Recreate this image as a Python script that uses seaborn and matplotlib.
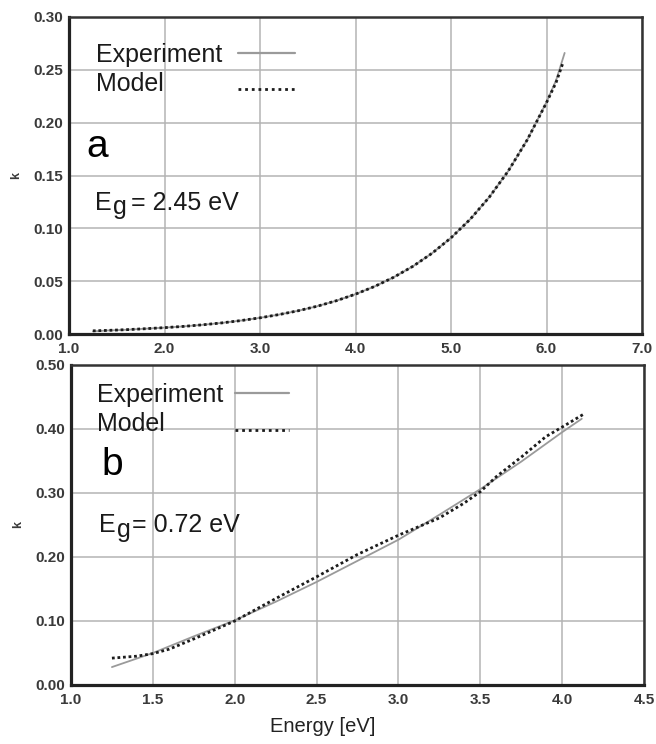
import matplotlib
matplotlib.use("Agg")
import matplotlib.pyplot as plt
import numpy as np
import pandas as pd
import seaborn as sns
from matplotlib.lines import Line2D
from matplotlib.ticker import MultipleLocator, FormatStrFormatter

# ---- panel a: wide-gap film ----
energy_a_exp = [1.25, 1.4, 1.6, 1.8, 2.0, 2.2, 2.4, 2.6, 2.8, 3.0, 3.2, 3.4, 3.6, 3.8,
                4.0, 4.2, 4.4, 4.6, 4.8, 5.0, 5.2, 5.4, 5.6, 5.8, 6.0, 6.1, 6.19]
k_a_exp = [0.0025, 0.0033, 0.0040, 0.0050, 0.0060, 0.0072, 0.0087, 0.0105, 0.0127, 0.0153,
           0.0184, 0.0220, 0.0263, 0.0315, 0.0377, 0.0450, 0.0537, 0.0640, 0.0763, 0.0910,
           0.1085, 0.1294, 0.1543, 0.1840, 0.2194, 0.2400, 0.2660]
energy_a_mod = [1.25, 1.4, 1.6, 1.8, 2.0, 2.2, 2.4, 2.6, 2.8, 3.0, 3.2, 3.4, 3.6, 3.8,
                4.0, 4.2, 4.4, 4.6, 4.8, 5.0, 5.2, 5.4, 5.6, 5.8, 6.0, 6.1, 6.17]
k_a_mod = [0.0030, 0.0034, 0.0041, 0.0050, 0.0060, 0.0072, 0.0087, 0.0105, 0.0127, 0.0153,
           0.0184, 0.0220, 0.0263, 0.0315, 0.0377, 0.0450, 0.0537, 0.0640, 0.0763, 0.0910,
           0.1085, 0.1294, 0.1543, 0.1840, 0.2190, 0.2380, 0.2560]

# ---- panel b: narrow-gap film ----
energy_b_exp = [1.25, 1.5, 1.75, 2.0, 2.25, 2.5, 2.75, 3.0, 3.25, 3.5, 3.75, 4.0, 4.12]
k_b_exp = [0.028, 0.050, 0.076, 0.101, 0.130, 0.161, 0.194, 0.227, 0.266, 0.306, 0.349, 0.395, 0.416]
energy_b_mod = [1.25, 1.3, 1.4, 1.5, 1.6, 1.75, 2.0, 2.25, 2.5, 2.75, 3.0, 3.25, 3.4, 3.5,
                3.6, 3.75, 3.9, 4.0, 4.13]
k_b_mod = [0.042, 0.043, 0.045, 0.049, 0.056, 0.072, 0.100, 0.135, 0.169, 0.204, 0.234, 0.261,
           0.284, 0.302, 0.326, 0.356, 0.388, 0.403, 0.423]

legend_labels = ["Experiment", "Model"]
panel_letters = ["a", "b"]
gap_values = ["2.45", "0.72"]
x_label = "Energy [eV]"
y_label = "k"

sns.set_theme(style="white")
plt.rcParams["font.family"] = ["Liberation Sans", "DejaVu Sans"]

EXP_COLOR = "#9a9a9a"
MOD_COLOR = "#1c1c1c"
CURVE_DOTS = (0, (1, 1.0))
LEGEND_DOTS = (0, (1, 1.4))
GRID_COLOR = "#b4b4b4"
TICK_COLOR = "#3a3a3a"

W, H = 656, 744
fig = plt.figure(figsize=(W / 100, H / 100), dpi=100)
ax_a = fig.add_axes([69 / W, 1 - 334 / H, 573 / W, 317 / H])
ax_b = fig.add_axes([71 / W, 1 - 685 / H, 573 / W, 320 / H])


def draw_curves(ax, ex, ey, mx, my):
    df_exp = pd.DataFrame({"energy": ex, "k": ey})
    df_mod = pd.DataFrame({"energy": mx, "k": my})
    sns.lineplot(data=df_exp, x="energy", y="k", ax=ax, color=EXP_COLOR, lw=1.3,
                 errorbar=None, legend=False, zorder=3)
    sns.lineplot(data=df_mod, x="energy", y="k", ax=ax, color=MOD_COLOR, lw=2.0,
                 linestyle=CURVE_DOTS, errorbar=None, legend=False, zorder=4)


def style_axes(ax, xlim, xstep, xfmt, ylim, ystep):
    ax.set_xlim(*xlim)
    ax.set_ylim(*ylim)
    ax.xaxis.set_major_locator(MultipleLocator(xstep))
    ax.yaxis.set_major_locator(MultipleLocator(ystep))
    ax.xaxis.set_major_formatter(FormatStrFormatter(xfmt))
    ax.yaxis.set_major_formatter(FormatStrFormatter("%.2f"))
    ax.grid(True, color=GRID_COLOR, lw=1.1, zorder=0)
    ax.tick_params(length=0, labelsize=11, colors=TICK_COLOR)
    ax.tick_params(axis="x", pad=6)
    ax.tick_params(axis="y", pad=4)
    for lab in ax.get_xticklabels() + ax.get_yticklabels():
        lab.set_fontweight("bold")
    for side in ["top", "right"]:
        ax.spines[side].set_color("#333333")
        ax.spines[side].set_linewidth(1.8)
    for side in ["left", "bottom"]:
        ax.spines[side].set_color("#222222")
        ax.spines[side].set_linewidth(2.3)
    ax.set_ylabel(y_label, fontsize=9, fontweight="bold", color=TICK_COLOR, labelpad=8)
    ax.set_xlabel("")


def legend_block(ax, text_x, exp_base, mod_base, line_x0, line_x1, exp_line_y, mod_line_y):
    ax.text(text_x, exp_base, legend_labels[0], transform=ax.transAxes, fontsize=18,
            color="#1a1a1a", va="baseline", ha="left")
    ax.text(text_x, mod_base, legend_labels[1], transform=ax.transAxes, fontsize=18,
            color="#1a1a1a", va="baseline", ha="left")
    ax.add_line(Line2D([line_x0, line_x1], [exp_line_y, exp_line_y], transform=ax.transAxes,
                       color=EXP_COLOR, lw=1.6))
    ax.add_line(Line2D([line_x0, line_x1], [mod_line_y, mod_line_y], transform=ax.transAxes,
                       color=MOD_COLOR, lw=2.0, linestyle=LEGEND_DOTS))


def gap_label(ax, x, y, gx, gy, rx, value):
    kw = dict(transform=ax.transAxes, fontsize=18, color="#1a1a1a", va="baseline", ha="left")
    ax.text(x, y, "E", **kw)
    ax.text(gx, gy, "g", **kw)
    ax.text(rx, y, "= " + value + " eV", **kw)


# panel a
draw_curves(ax_a, energy_a_exp, k_a_exp, energy_a_mod, k_a_mod)
style_axes(ax_a, (1.0, 7.0), 1.0, "%.1f", (0.0, 0.30), 0.05)
legend_block(ax_a, 0.047, 0.858, 0.767, 0.295, 0.394, 0.886, 0.773)
ax_a.text(0.031, 0.558, panel_letters[0], transform=ax_a.transAxes, fontsize=28,
          color="black", va="baseline", ha="left")
gap_label(ax_a, 0.045, 0.391, 0.0768, 0.379, 0.108, gap_values[0])

# panel b
draw_curves(ax_b, energy_b_exp, k_b_exp, energy_b_mod, k_b_mod)
style_axes(ax_b, (1.0, 4.5), 0.5, "%.1f", (0.0, 0.50), 0.10)
legend_block(ax_b, 0.045, 0.884, 0.794, 0.286, 0.380, 0.9125, 0.797)
ax_b.text(0.054, 0.656, panel_letters[1], transform=ax_b.transAxes, fontsize=28,
          color="black", va="baseline", ha="left")
gap_label(ax_b, 0.049, 0.478, 0.0800, 0.462, 0.107, gap_values[1])
ax_b.set_xlabel(x_label, fontsize=14.5, color="#222222")
ax_b.xaxis.set_label_coords(0.44, -0.100)
ax_b.xaxis.label.set_verticalalignment("top")

fig.savefig("out.png", dpi=100, facecolor="white")
